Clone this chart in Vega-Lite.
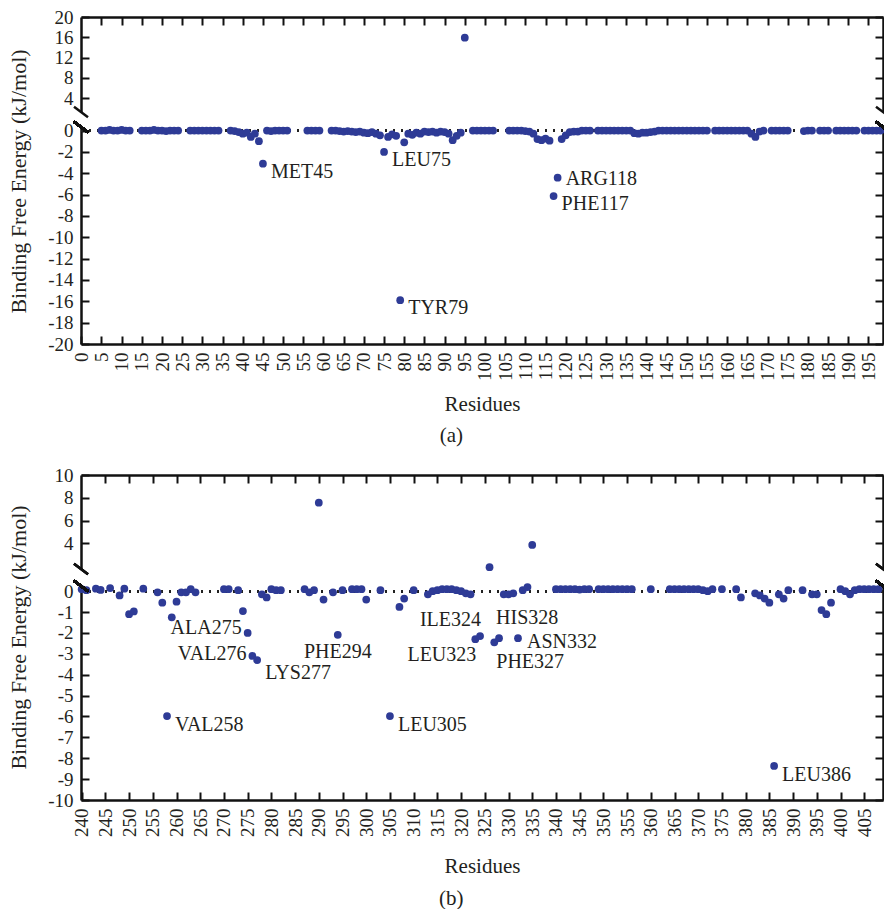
{
  "$schema": "https://vega.github.io/schema/vega-lite/v6.json",
  "padding": {"left": 7, "top": 8, "right": 0, "bottom": 0},
  "config": {
    "font": "Liberation Serif",
    "view": {"stroke": null},
    "axis": {
      "grid": false,
      "domainColor": "#111111",
      "domainWidth": 2.5,
      "tickColor": "#111111",
      "tickWidth": 2,
      "tickSize": -8,
      "labelPadding": 16,
      "labelFont": "Liberation Serif",
      "labelFontSize": 19,
      "labelColor": "#231f20",
      "titleFont": "Liberation Serif",
      "titleFontSize": 21,
      "titleFontWeight": "normal",
      "titleColor": "#231f20"
    },
    "title": {"font": "Liberation Serif", "fontSize": 21, "fontWeight": "normal", "color": "#231f20"},
    "text": {"font": "Liberation Serif", "fontSize": 20, "color": "#231f20"}
  },
  "datasets": {
    "a": [
      {"res": 5, "dg": 0}, {"res": 6, "dg": 0}, {"res": 7, "dg": 0.05}, {"res": 8, "dg": 0}, {"res": 9, "dg": 0}, {"res": 10, "dg": 0.05}, {"res": 11, "dg": 0}, {"res": 12, "dg": 0},
      {"res": 15, "dg": 0}, {"res": 16, "dg": 0}, {"res": 17, "dg": 0}, {"res": 18, "dg": 0.05}, {"res": 19, "dg": 0}, {"res": 20, "dg": 0}, {"res": 21, "dg": -0.05}, {"res": 22, "dg": 0}, {"res": 23, "dg": 0}, {"res": 24, "dg": 0},
      {"res": 27, "dg": 0}, {"res": 28, "dg": 0}, {"res": 29, "dg": 0}, {"res": 30, "dg": 0}, {"res": 31, "dg": 0}, {"res": 32, "dg": 0}, {"res": 33, "dg": 0}, {"res": 34, "dg": 0},
      {"res": 37, "dg": 0}, {"res": 38, "dg": -0.05}, {"res": 39, "dg": -0.15}, {"res": 40, "dg": -0.3}, {"res": 41, "dg": -0.2}, {"res": 42, "dg": -0.6}, {"res": 43, "dg": -0.3}, {"res": 44, "dg": -1.0}, {"res": 45, "dg": -3.11, "name": "MET45"},
      {"res": 46, "dg": 0}, {"res": 47, "dg": -0.05}, {"res": 48, "dg": 0}, {"res": 49, "dg": 0}, {"res": 50, "dg": 0}, {"res": 51, "dg": 0},
      {"res": 56, "dg": 0}, {"res": 57, "dg": 0}, {"res": 58, "dg": 0}, {"res": 59, "dg": 0},
      {"res": 62, "dg": 0}, {"res": 63, "dg": 0}, {"res": 64, "dg": -0.05}, {"res": 65, "dg": -0.1}, {"res": 66, "dg": -0.05}, {"res": 67, "dg": -0.1}, {"res": 68, "dg": -0.15}, {"res": 69, "dg": -0.1}, {"res": 70, "dg": -0.2}, {"res": 71, "dg": -0.25}, {"res": 72, "dg": -0.15}, {"res": 73, "dg": -0.3},
      {"res": 74, "dg": -0.45}, {"res": 75, "dg": -2.01, "name": "LEU75"}, {"res": 76, "dg": -0.6}, {"res": 77, "dg": -0.35}, {"res": 78, "dg": -0.5}, {"res": 79, "dg": -15.9, "name": "TYR79"}, {"res": 80, "dg": -1.1},
      {"res": 81, "dg": -0.3}, {"res": 82, "dg": -0.4}, {"res": 83, "dg": -0.2}, {"res": 84, "dg": -0.3}, {"res": 85, "dg": -0.1}, {"res": 86, "dg": -0.15}, {"res": 87, "dg": -0.1}, {"res": 88, "dg": -0.2}, {"res": 89, "dg": -0.1}, {"res": 90, "dg": -0.15},
      {"res": 91, "dg": -0.3}, {"res": 92, "dg": -0.9}, {"res": 93, "dg": -0.5}, {"res": 94, "dg": -0.2}, {"res": 95, "dg": 15.93},
      {"res": 97, "dg": 0}, {"res": 98, "dg": 0}, {"res": 99, "dg": 0}, {"res": 100, "dg": 0}, {"res": 101, "dg": 0}, {"res": 102, "dg": 0},
      {"res": 106, "dg": 0}, {"res": 107, "dg": 0}, {"res": 108, "dg": 0}, {"res": 109, "dg": 0}, {"res": 110, "dg": -0.05}, {"res": 111, "dg": -0.1},
      {"res": 112, "dg": -0.3}, {"res": 113, "dg": -0.8}, {"res": 114, "dg": -0.9}, {"res": 115, "dg": -0.75}, {"res": 116, "dg": -0.95}, {"res": 117, "dg": -6.14, "name": "PHE117"}, {"res": 118, "dg": -4.42, "name": "ARG118"},
      {"res": 119, "dg": -0.8}, {"res": 120, "dg": -0.45}, {"res": 121, "dg": -0.15}, {"res": 122, "dg": -0.1}, {"res": 123, "dg": -0.1}, {"res": 124, "dg": 0}, {"res": 125, "dg": 0}, {"res": 126, "dg": 0},
      {"res": 128, "dg": 0}, {"res": 129, "dg": 0}, {"res": 130, "dg": 0}, {"res": 131, "dg": 0}, {"res": 132, "dg": 0}, {"res": 133, "dg": 0}, {"res": 134, "dg": 0}, {"res": 135, "dg": 0}, {"res": 136, "dg": 0},
      {"res": 137, "dg": -0.25}, {"res": 138, "dg": -0.3}, {"res": 139, "dg": -0.2}, {"res": 140, "dg": -0.2}, {"res": 141, "dg": -0.15}, {"res": 142, "dg": -0.1}, {"res": 143, "dg": 0}, {"res": 144, "dg": 0}, {"res": 145, "dg": 0},
      {"res": 146, "dg": 0}, {"res": 147, "dg": 0}, {"res": 148, "dg": 0}, {"res": 149, "dg": 0}, {"res": 150, "dg": 0}, {"res": 151, "dg": 0}, {"res": 152, "dg": 0}, {"res": 153, "dg": 0}, {"res": 154, "dg": 0}, {"res": 155, "dg": 0},
      {"res": 157, "dg": 0}, {"res": 158, "dg": 0}, {"res": 159, "dg": 0}, {"res": 160, "dg": 0}, {"res": 161, "dg": 0}, {"res": 162, "dg": 0}, {"res": 163, "dg": 0}, {"res": 164, "dg": 0}, {"res": 165, "dg": 0},
      {"res": 166, "dg": -0.3}, {"res": 167, "dg": -0.6}, {"res": 168, "dg": -0.1}, {"res": 169, "dg": 0},
      {"res": 171, "dg": 0}, {"res": 172, "dg": 0}, {"res": 173, "dg": 0}, {"res": 174, "dg": 0}, {"res": 175, "dg": 0},
      {"res": 179, "dg": -0.05}, {"res": 180, "dg": 0}, {"res": 181, "dg": 0},
      {"res": 183, "dg": 0}, {"res": 184, "dg": 0}, {"res": 185, "dg": 0},
      {"res": 187, "dg": 0}, {"res": 188, "dg": 0}, {"res": 189, "dg": 0}, {"res": 190, "dg": 0}, {"res": 191, "dg": 0}, {"res": 192, "dg": 0},
      {"res": 194, "dg": 0}, {"res": 195, "dg": 0}, {"res": 196, "dg": 0}, {"res": 197, "dg": 0}, {"res": 198, "dg": 0}
    ],
    "b": [
      {"res": 240, "dg": 0.1}, {"res": 241, "dg": 0.05}, {"res": 243, "dg": 0.12}, {"res": 244, "dg": 0.06}, {"res": 246, "dg": 0.15}, {"res": 248, "dg": -0.2}, {"res": 249, "dg": 0.12},
      {"res": 250, "dg": -1.1}, {"res": 251, "dg": -0.97}, {"res": 253, "dg": 0.12}, {"res": 256, "dg": -0.05}, {"res": 257, "dg": -0.55}, {"res": 258, "dg": -5.98, "name": "VAL258"}, {"res": 259, "dg": -1.25}, {"res": 260, "dg": -0.5},
      {"res": 261, "dg": -0.05}, {"res": 262, "dg": -0.05}, {"res": 263, "dg": 0.1}, {"res": 264, "dg": -0.05},
      {"res": 270, "dg": 0.1}, {"res": 271, "dg": 0.1}, {"res": 273, "dg": 0.05}, {"res": 274, "dg": -0.95}, {"res": 275, "dg": -2.0, "name": "ALA275"}, {"res": 276, "dg": -3.1, "name": "VAL276"}, {"res": 277, "dg": -3.3, "name": "LYS277"},
      {"res": 278, "dg": -0.15}, {"res": 279, "dg": -0.3}, {"res": 280, "dg": 0.1}, {"res": 281, "dg": 0.05}, {"res": 282, "dg": 0.05},
      {"res": 287, "dg": 0.1}, {"res": 288, "dg": -0.05}, {"res": 289, "dg": 0.05}, {"res": 290, "dg": 7.57}, {"res": 291, "dg": -0.4}, {"res": 293, "dg": -0.05}, {"res": 294, "dg": -2.09, "name": "PHE294"}, {"res": 295, "dg": 0.05},
      {"res": 297, "dg": 0.1}, {"res": 298, "dg": 0.1}, {"res": 299, "dg": 0.1}, {"res": 300, "dg": -0.4}, {"res": 303, "dg": 0.05}, {"res": 305, "dg": -5.98, "name": "LEU305"}, {"res": 307, "dg": -0.75}, {"res": 308, "dg": -0.35},
      {"res": 310, "dg": 0.05}, {"res": 313, "dg": -0.15}, {"res": 314, "dg": 0}, {"res": 315, "dg": 0.05}, {"res": 316, "dg": 0.1}, {"res": 317, "dg": 0.1}, {"res": 318, "dg": 0.1}, {"res": 319, "dg": 0.05}, {"res": 320, "dg": 0}, {"res": 321, "dg": -0.1}, {"res": 322, "dg": -0.15},
      {"res": 323, "dg": -2.3, "name": "LEU323"}, {"res": 324, "dg": -2.15, "name": "ILE324"}, {"res": 326, "dg": 1.9}, {"res": 327, "dg": -2.45, "name": "PHE327"}, {"res": 328, "dg": -2.25, "name": "HIS328"},
      {"res": 329, "dg": -0.15}, {"res": 330, "dg": -0.15}, {"res": 331, "dg": -0.1}, {"res": 332, "dg": -2.25, "name": "ASN332"}, {"res": 333, "dg": 0.05}, {"res": 334, "dg": 0.2}, {"res": 335, "dg": 3.85},
      {"res": 340, "dg": 0.1}, {"res": 341, "dg": 0.1}, {"res": 342, "dg": 0.1}, {"res": 343, "dg": 0.1}, {"res": 344, "dg": 0.1}, {"res": 345, "dg": 0.08}, {"res": 346, "dg": 0.1}, {"res": 347, "dg": 0.1},
      {"res": 349, "dg": 0.1}, {"res": 350, "dg": 0.1}, {"res": 351, "dg": 0.1}, {"res": 352, "dg": 0.1}, {"res": 353, "dg": 0.1}, {"res": 354, "dg": 0.1}, {"res": 355, "dg": 0.1}, {"res": 356, "dg": 0.1},
      {"res": 360, "dg": 0.1},
      {"res": 364, "dg": 0.1}, {"res": 365, "dg": 0.1}, {"res": 366, "dg": 0.1}, {"res": 367, "dg": 0.1}, {"res": 368, "dg": 0.1}, {"res": 369, "dg": 0.1}, {"res": 370, "dg": 0.1}, {"res": 371, "dg": 0.05},
      {"res": 372, "dg": 0}, {"res": 373, "dg": 0.1}, {"res": 375, "dg": 0.1}, {"res": 378, "dg": 0.1}, {"res": 379, "dg": -0.3},
      {"res": 382, "dg": -0.1}, {"res": 383, "dg": -0.2}, {"res": 384, "dg": -0.35}, {"res": 385, "dg": -0.55}, {"res": 386, "dg": -8.37, "name": "LEU386"}, {"res": 387, "dg": -0.15}, {"res": 388, "dg": -0.35}, {"res": 389, "dg": 0.05},
      {"res": 392, "dg": 0.05}, {"res": 394, "dg": -0.15}, {"res": 395, "dg": -0.15}, {"res": 396, "dg": -0.9}, {"res": 397, "dg": -1.1}, {"res": 398, "dg": -0.55},
      {"res": 400, "dg": 0.1}, {"res": 401, "dg": 0}, {"res": 402, "dg": -0.15}, {"res": 403, "dg": 0.05}, {"res": 404, "dg": 0.1}, {"res": 405, "dg": 0.1}, {"res": 406, "dg": 0.1}, {"res": 407, "dg": 0.1}, {"res": 408, "dg": 0.1}
    ]
  },
  "spacing": 20,
  "vconcat": [
    {
      "title": {"text": "(a)", "orient": "bottom", "anchor": "middle", "offset": 10},
      "bounds": "flush",
      "spacing": 15,
      "vconcat": [
        {
          "width": 802,
          "height": 95,
          "data": {"name": "a"},
          "transform": [{"filter": "datum.dg > 1.3"}],
          "layer": [
            {
              "mark": {"type": "circle", "size": 60, "color": "#2e3b96", "opacity": 1},
              "encoding": {
                "x": {"field": "res", "type": "quantitative", "scale": {"domain": [-0.07, 198.6], "nice": false, "zero": false},
                      "axis": {"orient": "top", "labels": false, "title": null, "values": [5,10,15,20,25,30,35,40,45,50,55,60,65,70,75,80,85,90,95,100,105,110,115,120,125,130,135,140,145,150,155,160,165,170,175,180,185,190,195]}},
                "y": {"field": "dg", "type": "quantitative", "scale": {"domain": [1.3, 20], "nice": false, "zero": false},
                      "axis": {"values": [4, 8, 12, 16, 20], "title": null, "labelExpr": "'' + datum.value"}}
              }
            },
            {
              "mark": {"type": "point", "shape": "M-1,-0.75L1,0.75", "filled": false, "stroke": "#111111", "strokeWidth": 2.5, "size": 196, "opacity": 1},
              "encoding": {
                "x": {"datum": -0.07, "type": "quantitative", "scale": {"domain": [-0.07, 198.6], "nice": false, "zero": false}, "axis": null},
                "y": {"datum": 1.3, "type": "quantitative", "scale": {"domain": [1.3, 20], "nice": false, "zero": false}, "axis": null}
              }
            },
            {
              "mark": {"type": "point", "shape": "M-1,-0.75L1,0.75", "filled": false, "stroke": "#111111", "strokeWidth": 2.5, "size": 196, "opacity": 1},
              "encoding": {
                "x": {"datum": 198.6, "type": "quantitative", "scale": {"domain": [-0.07, 198.6], "nice": false, "zero": false}, "axis": null},
                "y": {"datum": 1.3, "type": "quantitative", "scale": {"domain": [1.3, 20], "nice": false, "zero": false},
                      "axis": {"orient": "right", "labels": false, "title": null, "values": [4, 8, 12, 16, 20]}}
              }
            }
          ],
          "resolve": {"axis": {"x": "independent", "y": "independent"}}
        },
        {
          "width": 802,
          "height": 217,
          "data": {"name": "a"},
          "transform": [{"filter": "datum.dg < 0.33"}],
          "layer": [
            {
              "mark": {"type": "rule", "strokeDash": [2, 6], "strokeWidth": 2, "color": "#222222"},
              "encoding": {
                "y": {"datum": 0, "type": "quantitative", "scale": {"domain": [-20, 0.33], "nice": false, "zero": false}, "axis": null}
              }
            },
            {
              "mark": {"type": "circle", "size": 60, "color": "#2e3b96", "opacity": 1},
              "encoding": {
                "x": {"field": "res", "type": "quantitative", "scale": {"domain": [-0.07, 198.6], "nice": false, "zero": false},
                      "axis": {"title": "Residues", "labelAngle": 270, "titlePadding": 13, "values": [0,5,10,15,20,25,30,35,40,45,50,55,60,65,70,75,80,85,90,95,100,105,110,115,120,125,130,135,140,145,150,155,160,165,170,175,180,185,190,195]}},
                "y": {"field": "dg", "type": "quantitative", "scale": {"domain": [-20, 0.33], "nice": false, "zero": false},
                      "axis": {"values": [0,-2,-4,-6,-8,-10,-12,-14,-16,-18,-20], "labelExpr": "'' + datum.value", "title": "Binding Free Energy (kJ/mol)", "titleFontSize": 22, "titleY": 54, "titlePadding": 17}}
              }
            },
            {
              "transform": [{"filter": {"field": "name", "oneOf": ["MET45", "LEU75", "TYR79", "PHE117"]}}],
              "mark": {"type": "text", "align": "left", "baseline": "middle", "dx": 8, "dy": 8},
              "encoding": {
                "x": {"field": "res", "type": "quantitative", "axis": null},
                "y": {"field": "dg", "type": "quantitative", "axis": null},
                "text": {"field": "name"}
              }
            },
            {
              "transform": [{"filter": {"field": "name", "equal": "ARG118"}}],
              "mark": {"type": "text", "align": "left", "baseline": "middle", "dx": 8, "dy": 1},
              "encoding": {
                "x": {"field": "res", "type": "quantitative", "axis": null},
                "y": {"field": "dg", "type": "quantitative", "axis": null},
                "text": {"field": "name"}
              }
            },
            {
              "mark": {"type": "point", "shape": "M-1,-0.75L1,0.75", "filled": false, "stroke": "#111111", "strokeWidth": 2.5, "size": 196, "opacity": 1},
              "encoding": {
                "x": {"datum": -0.07, "type": "quantitative", "axis": null},
                "y": {"datum": 0.33, "type": "quantitative", "axis": null}
              }
            },
            {
              "mark": {"type": "point", "shape": "M-1,-0.75L1,0.75", "filled": false, "stroke": "#111111", "strokeWidth": 2.5, "size": 196, "opacity": 1},
              "encoding": {
                "x": {"datum": 198.6, "type": "quantitative", "axis": null},
                "y": {"datum": 0.33, "type": "quantitative",
                      "axis": {"orient": "right", "labels": false, "title": null, "values": [0,-2,-4,-6,-8,-10,-12,-14,-16,-18,-20]}}
              }
            }
          ],
          "resolve": {"axis": {"x": "independent", "y": "independent"}}
        }
      ]
    },
    {
      "title": {"text": "(b)", "orient": "bottom", "anchor": "middle", "offset": 11},
      "bounds": "flush",
      "spacing": 17,
      "vconcat": [
        {
          "width": 802,
          "height": 94,
          "data": {"name": "b"},
          "transform": [{"filter": "datum.dg > 1.74"}],
          "layer": [
            {
              "mark": {"type": "circle", "size": 60, "color": "#2e3b96", "opacity": 1},
              "encoding": {
                "x": {"field": "res", "type": "quantitative", "scale": {"domain": [239.86, 408.96], "nice": false, "zero": false},
                      "axis": {"orient": "top", "labels": false, "title": null, "values": [245,250,255,260,265,270,275,280,285,290,295,300,305,310,315,320,325,330,335,340,345,350,355,360,365,370,375,380,385,390,395,400,405]}},
                "y": {"field": "dg", "type": "quantitative", "scale": {"domain": [1.74, 10], "nice": false, "zero": false},
                      "axis": {"values": [4, 6, 8, 10], "title": null, "labelExpr": "'' + datum.value"}}
              }
            },
            {
              "mark": {"type": "point", "shape": "M-1,-0.75L1,0.75", "filled": false, "stroke": "#111111", "strokeWidth": 2.5, "size": 196, "opacity": 1},
              "encoding": {
                "x": {"datum": 239.86, "type": "quantitative", "scale": {"domain": [239.86, 408.96], "nice": false, "zero": false}, "axis": null},
                "y": {"datum": 1.74, "type": "quantitative", "scale": {"domain": [1.74, 10], "nice": false, "zero": false}, "axis": null}
              }
            },
            {
              "mark": {"type": "point", "shape": "M-1,-0.75L1,0.75", "filled": false, "stroke": "#111111", "strokeWidth": 2.5, "size": 196, "opacity": 1},
              "encoding": {
                "x": {"datum": 408.96, "type": "quantitative", "scale": {"domain": [239.86, 408.96], "nice": false, "zero": false}, "axis": null},
                "y": {"datum": 1.74, "type": "quantitative", "scale": {"domain": [1.74, 10], "nice": false, "zero": false},
                      "axis": {"orient": "right", "labels": false, "title": null, "values": [4, 6, 8, 10]}}
              }
            }
          ],
          "resolve": {"axis": {"x": "independent", "y": "independent"}}
        },
        {
          "width": 802,
          "height": 214,
          "data": {"name": "b"},
          "transform": [{"filter": "datum.dg < 0.25"}],
          "layer": [
            {
              "mark": {"type": "rule", "strokeDash": [2, 6], "strokeWidth": 2, "color": "#222222"},
              "encoding": {
                "y": {"datum": 0, "type": "quantitative", "scale": {"domain": [-10, 0.25], "nice": false, "zero": false}, "axis": null}
              }
            },
            {
              "mark": {"type": "circle", "size": 60, "color": "#2e3b96", "opacity": 1},
              "encoding": {
                "x": {"field": "res", "type": "quantitative", "scale": {"domain": [239.86, 408.96], "nice": false, "zero": false},
                      "axis": {"title": "Residues", "labelAngle": 270, "titlePadding": 19, "values": [240,245,250,255,260,265,270,275,280,285,290,295,300,305,310,315,320,325,330,335,340,345,350,355,360,365,370,375,380,385,390,395,400,405]}},
                "y": {"field": "dg", "type": "quantitative", "scale": {"domain": [-10, 0.25], "nice": false, "zero": false},
                      "axis": {"values": [0,-1,-2,-3,-4,-5,-6,-7,-8,-9,-10], "labelExpr": "'' + datum.value", "title": "Binding Free Energy (kJ/mol)", "titleFontSize": 22, "titleY": 51, "titlePadding": 17}}
              }
            },
            {
              "transform": [{"filter": {"field": "name", "oneOf": ["VAL258", "LEU305", "LEU386"]}}],
              "mark": {"type": "text", "align": "left", "baseline": "middle", "dx": 8, "dy": 9},
              "encoding": {"x": {"field": "res", "type": "quantitative", "axis": null}, "y": {"field": "dg", "type": "quantitative", "axis": null}, "text": {"field": "name"}}
            },
            {
              "transform": [{"filter": {"field": "name", "equal": "ALA275"}}],
              "mark": {"type": "text", "align": "right", "baseline": "middle", "dx": -6, "dy": -5},
              "encoding": {"x": {"field": "res", "type": "quantitative", "axis": null}, "y": {"field": "dg", "type": "quantitative", "axis": null}, "text": {"field": "name"}}
            },
            {
              "transform": [{"filter": {"field": "name", "equal": "VAL276"}}],
              "mark": {"type": "text", "align": "right", "baseline": "middle", "dx": -6, "dy": -2},
              "encoding": {"x": {"field": "res", "type": "quantitative", "axis": null}, "y": {"field": "dg", "type": "quantitative", "axis": null}, "text": {"field": "name"}}
            },
            {
              "transform": [{"filter": {"field": "name", "equal": "LYS277"}}],
              "mark": {"type": "text", "align": "left", "baseline": "middle", "dx": 8, "dy": 13},
              "encoding": {"x": {"field": "res", "type": "quantitative", "axis": null}, "y": {"field": "dg", "type": "quantitative", "axis": null}, "text": {"field": "name"}}
            },
            {
              "transform": [{"filter": {"field": "name", "equal": "PHE294"}}],
              "mark": {"type": "text", "align": "center", "baseline": "middle", "dx": 0, "dy": 17},
              "encoding": {"x": {"field": "res", "type": "quantitative", "axis": null}, "y": {"field": "dg", "type": "quantitative", "axis": null}, "text": {"field": "name"}}
            },
            {
              "transform": [{"filter": {"field": "name", "equal": "ILE324"}}],
              "mark": {"type": "text", "align": "right", "baseline": "middle", "dx": 1, "dy": -16},
              "encoding": {"x": {"field": "res", "type": "quantitative", "axis": null}, "y": {"field": "dg", "type": "quantitative", "axis": null}, "text": {"field": "name"}}
            },
            {
              "transform": [{"filter": {"field": "name", "equal": "LEU323"}}],
              "mark": {"type": "text", "align": "right", "baseline": "middle", "dx": 1, "dy": 16},
              "encoding": {"x": {"field": "res", "type": "quantitative", "axis": null}, "y": {"field": "dg", "type": "quantitative", "axis": null}, "text": {"field": "name"}}
            },
            {
              "transform": [{"filter": {"field": "name", "equal": "HIS328"}}],
              "mark": {"type": "text", "align": "left", "baseline": "middle", "dx": -3, "dy": -20},
              "encoding": {"x": {"field": "res", "type": "quantitative", "axis": null}, "y": {"field": "dg", "type": "quantitative", "axis": null}, "text": {"field": "name"}}
            },
            {
              "transform": [{"filter": {"field": "name", "equal": "PHE327"}}],
              "mark": {"type": "text", "align": "left", "baseline": "middle", "dx": 2, "dy": 20},
              "encoding": {"x": {"field": "res", "type": "quantitative", "axis": null}, "y": {"field": "dg", "type": "quantitative", "axis": null}, "text": {"field": "name"}}
            },
            {
              "transform": [{"filter": {"field": "name", "equal": "ASN332"}}],
              "mark": {"type": "text", "align": "left", "baseline": "middle", "dx": 9, "dy": 4},
              "encoding": {"x": {"field": "res", "type": "quantitative", "axis": null}, "y": {"field": "dg", "type": "quantitative", "axis": null}, "text": {"field": "name"}}
            },
            {
              "mark": {"type": "point", "shape": "M-1,-0.75L1,0.75", "filled": false, "stroke": "#111111", "strokeWidth": 2.5, "size": 196, "opacity": 1},
              "encoding": {"x": {"datum": 239.86, "type": "quantitative", "axis": null}, "y": {"datum": 0.25, "type": "quantitative", "axis": null}}
            },
            {
              "mark": {"type": "point", "shape": "M-1,-0.75L1,0.75", "filled": false, "stroke": "#111111", "strokeWidth": 2.5, "size": 196, "opacity": 1},
              "encoding": {
                "x": {"datum": 408.96, "type": "quantitative", "axis": null},
                "y": {"datum": 0.25, "type": "quantitative",
                      "axis": {"orient": "right", "labels": false, "title": null, "values": [0,-1,-2,-3,-4,-5,-6,-7,-8,-9,-10]}}
              }
            }
          ],
          "resolve": {"axis": {"x": "independent", "y": "independent"}}
        }
      ]
    }
  ]
}
